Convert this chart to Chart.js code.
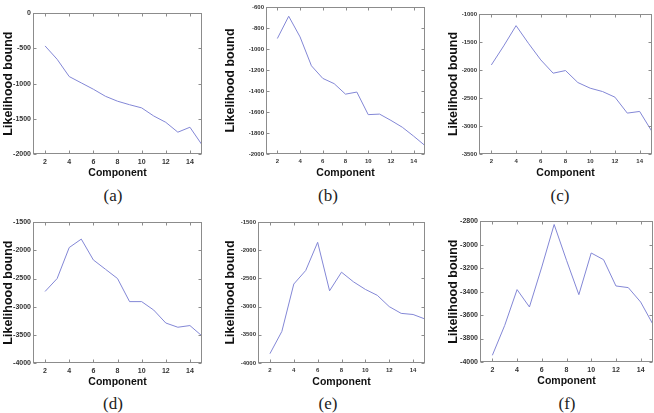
<!DOCTYPE html>
<html>
<head>
<meta charset="utf-8">
<script src="https://cdn.jsdelivr.net/npm/chart.js@4.4.1/dist/chart.umd.min.js"></script>
<style>
  html, body { margin: 0; padding: 0; background: #fff; }
  #wrap { position: relative; width: 654px; height: 413px; overflow: hidden; }
  #wrap canvas { position: absolute; }
  .cap { position: absolute; font: 17px 'Liberation Serif', 'DejaVu Serif', serif; color: #222; transform: translate(-50%, -50%); }
</style>
</head>
<body>
<div id="wrap"></div>
<script>
// x categories (number of components)
const components = [2, 3, 4, 5, 6, 7, 8, 9, 10, 11, 12, 13, 14, 15];
const xTicks = [2, 4, 6, 8, 10, 12, 14];

// likelihood bound per panel
const boundA = [-465, -655, -900, -990, -1080, -1180, -1250, -1300, -1345, -1460, -1550, -1690, -1620, -1870];
const boundB = [-900, -688, -885, -1160, -1280, -1330, -1430, -1410, -1625, -1620, -1680, -1745, -1830, -1920];
const boundC = [-1910, -1570, -1208, -1523, -1820, -2057, -2010, -2224, -2325, -2385, -2485, -2770, -2740, -3100];
const boundD = [-2730, -2500, -1950, -1800, -2170, -2335, -2500, -2910, -2910, -3060, -3290, -3365, -3335, -3520];
const boundE = [-3835, -3440, -2600, -2360, -1860, -2720, -2390, -2560, -2695, -2800, -3000, -3120, -3140, -3220];
const boundF = [-3943, -3688, -3383, -3531, -3190, -2828, -3133, -3426, -3071, -3128, -3352, -3366, -3489, -3680];

// y tick labels per panel
const yTicksA = [0, -500, -1000, -1500, -2000];
const yTicksB = [-600, -800, -1000, -1200, -1400, -1600, -1800, -2000];
const yTicksC = [-1000, -1500, -2000, -2500, -3000, -3500];
const yTicksD = [-1500, -2000, -2500, -3000, -3500, -4000];
const yTicksE = [-1500, -2000, -2500, -3000, -3500, -4000];
const yTicksF = [-2800, -3000, -3200, -3400, -3600, -3800, -4000];

const captions = ['(a)', '(b)', '(c)', '(d)', '(e)', '(f)'];

// plot rectangles and caption spots (layout only)
const panels = [
  { data: boundA, yt: yTicksA, l: 33, r: 202, t: 13, b: 154, tx: 8, cx: 113, cy: 196, wide: true },
  { data: boundB, yt: yTicksB, l: 266, r: 425, t: 7, b: 154, tx: 230, cx: 328, cy: 196, wide: false },
  { data: boundC, yt: yTicksC, l: 479, r: 652, t: 14, b: 154, tx: 453, cx: 560, cy: 196, wide: false },
  { data: boundD, yt: yTicksD, l: 33, r: 202, t: 222, b: 363, tx: 8, cx: 113, cy: 404, wide: true },
  { data: boundE, yt: yTicksE, l: 258, r: 425, t: 222, b: 363, tx: 230, cx: 328, cy: 404, wide: false },
  { data: boundF, yt: yTicksF, l: 480, r: 653, t: 221, b: 362, tx: 453, cx: 567, cy: 404, wide: true },
];

// matlab style box with inward ticks
const frame = {
  id: 'frame',
  afterDraw(chart) {
    const { ctx, chartArea: a, scales: { x, y } } = chart;
    ctx.save();
    ctx.strokeStyle = '#8c8c8c';
    ctx.lineWidth = 1;
    const L = Math.round(a.left) + 0.5, R = Math.round(a.right) - 0.5;
    const T = Math.round(a.top) + 0.5, B = Math.round(a.bottom) - 0.5;
    ctx.strokeRect(L, T, R - L, B - T);
    ctx.beginPath();
    x.ticks.forEach(t => {
      const px = Math.round(x.getPixelForValue(t.value)) + 0.5;
      ctx.moveTo(px, B); ctx.lineTo(px, B - 3);
      ctx.moveTo(px, T); ctx.lineTo(px, T + 3);
    });
    y.ticks.forEach(t => {
      const py = Math.round(y.getPixelForValue(t.value)) + 0.5;
      ctx.moveTo(L, py); ctx.lineTo(L + 3, py);
      ctx.moveTo(R, py); ctx.lineTo(R - 3, py);
    });
    ctx.stroke();
    ctx.restore();
  }
};

const wrap = document.getElementById('wrap');

panels.forEach((p, i) => {
  const left = p.tx - 7;
  const top = p.t - 6;
  const w = p.r - left + 2;
  const h = p.b - top + 26;
  const cv = document.createElement('canvas');
  cv.style.left = left + 'px';
  cv.style.top = top + 'px';
  cv.style.width = w + 'px';
  cv.style.height = h + 'px';
  cv.width = w;
  cv.height = h;
  wrap.appendChild(cv);

  const tickFont = { family: "'Liberation Sans', Arial, sans-serif", size: p.wide ? 7 : 6, weight: 'bold' };

  new Chart(cv.getContext('2d'), {
    type: 'line',
    data: {
      datasets: [{
        data: components.map((c, k) => ({ x: c, y: p.data[k] })),
        borderColor: '#8387d6',
        borderWidth: 1,
        pointRadius: 0,
        tension: 0,
        fill: false,
      }],
    },
    options: {
      responsive: false,
      animation: false,
      layout: { padding: { top: 6, right: 2, left: 0, bottom: 0 } },
      plugins: { legend: { display: false }, tooltip: { enabled: false } },
      scales: {
        x: {
          type: 'linear',
          min: 1,
          max: 15,
          afterBuildTicks: s => { s.ticks = xTicks.map(v => ({ value: v })); },
          afterFit: s => { s.height = 26; },
          grid: { display: false, drawTicks: false, tickLength: 0 },
          border: { display: false },
          ticks: { padding: 4, color: '#333', font: tickFont, maxRotation: 0, autoSkip: false, callback: v => String(v) },
          title: {
            display: true,
            text: 'Component',
            color: '#111',
            padding: 0,
            font: { family: "'Liberation Sans', Arial, sans-serif", size: 10.5, weight: 'bold', lineHeight: 1.3 },
          },
        },
        y: {
          type: 'linear',
          min: Math.min(...p.yt),
          max: Math.max(...p.yt),
          afterBuildTicks: s => { s.ticks = p.yt.map(v => ({ value: v })); },
          afterFit: s => { s.width = p.l - left; },
          grid: { display: false, drawTicks: false, tickLength: 0 },
          border: { display: false },
          ticks: { padding: 2, color: '#333', font: tickFont, autoSkip: false, callback: v => String(v) },
          title: {
            display: true,
            text: 'Likelihood bound',
            color: '#111',
            padding: 0,
            font: { family: "'Liberation Sans', Arial, sans-serif", size: 12.5, weight: 'bold', lineHeight: 1.2 },
          },
        },
      },
    },
    plugins: [frame],
  });

  const cap = document.createElement('div');
  cap.className = 'cap';
  cap.style.left = p.cx + 'px';
  cap.style.top = p.cy + 'px';
  cap.textContent = captions[i];
  wrap.appendChild(cap);
});
</script>
</body>
</html>
